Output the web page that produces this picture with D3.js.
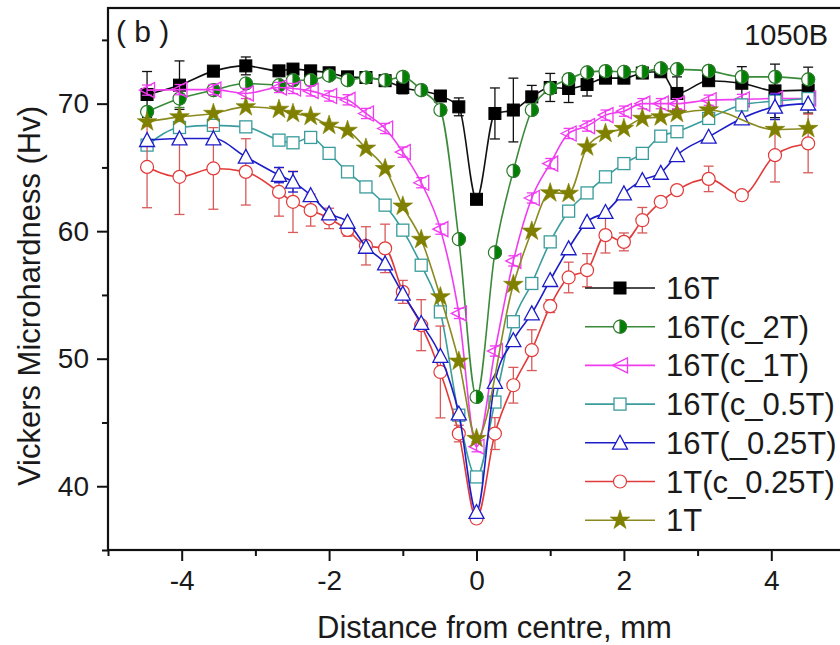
<!DOCTYPE html>
<html><head><meta charset="utf-8">
<script src="https://cdn.jsdelivr.net/npm/d3@7/dist/d3.min.js"></script>
<style>
html,body{margin:0;padding:0;background:#fff;}
text{font-family:"Liberation Sans",Arial,sans-serif;fill:#1a1a1a;}
</style></head>
<body>
<svg id="chart" width="840" height="645"></svg>
<script>
// ---- data ----
const xGrid = [-4.47,-4.03,-3.57,-3.13,-2.68,-2.49,-2.25,-2.0,-1.75,-1.5,-1.24,-1.0,-0.75,-0.49,-0.24,0,0.25,0.5,0.75,1.0,1.25,1.5,1.75,2.0,2.25,2.5,2.72,3.15,3.6,4.05,4.5];
const seriesNames = ["16T","16T(c_2T)","16T(c_1T)","16T(c_0.5T)","16T(_0.25T)","1T(c_0.25T)","1T"];
const hv16T   = [70.72,71.45,72.55,72.96,72.57,72.71,72.57,72.42,72.1,72.05,71.8,71.27,null,70.6,69.75,62.5,69.23,69.5,70.53,71.27,71.19,71.5,72.0,72.0,72.4,72.5,70.8,71.8,71.6,71.0,71.06];
const err16T  = [1.8,1.9,0.3,0.7,0,0,0,0,0,0,0,0.5,null,0,0.7,0,2.0,2.5,0.9,1.1,1.1,0.9,0,0.4,0,0,1.3,0,1.3,2.1,1.8];
const hvC2T   = [69.36,70.4,71.06,71.58,71.45,71.84,71.84,72.2,71.84,72.05,71.84,72.1,71.06,69.5,59.37,47.0,58.33,64.73,69.5,71.19,71.92,72.45,72.55,72.5,72.5,72.76,72.7,72.57,72.1,72.1,71.9];
const errC2T  = [0,0.7,0,0,0,0,0,0,0,0,0,0,0,0,0,0,0,0,0,0,0,0,0,0,0,0,0,0,0,0,0];
const hvC1T   = [71.06,71.1,71.1,70.8,71.27,71.19,71.0,70.6,70.3,69.23,68.05,66.2,63.8,60.16,53.55,43.1,50.6,57.67,62.6,65.3,67.66,68.24,69.1,69.41,70.0,70.0,70.0,70.27,70.33,70.4,70.4];
const errC1T  = [0.4,0.4,0.4,0.4,0.4,0.4,0.4,0.4,0.4,0.4,0.4,0.4,0.4,0.4,0.4,0.4,0.4,0.4,0.4,0.4,0.4,0.4,0.4,0.4,0.4,0.4,0.4,0.4,0.4,0.4,0.4];
const hvC05T  = [66.75,68.13,68.3,68.18,67.14,66.93,67.35,66.1,64.65,63.47,62.04,60.08,57.33,53.67,45.57,40.73,46.6,52.9,55.9,59.16,61.57,63.0,64.26,65.3,66.1,67.45,67.8,68.84,69.9,70.2,70.4];
const errC05T = [0,0,0,0,0,0,0,0,0,0,0,0,0,0,0,0,0,0,0,0,0,0,0,0,0,0,0,0,0,0,0];
const hvC025T = [67.14,67.27,67.27,65.83,64.4,63.87,62.82,61.39,60.73,58.77,57.47,55.1,52.8,50.22,45.7,37.98,48.18,51.45,53.55,56.16,58.65,60.73,61.5,62.96,64.0,64.57,65.96,67.4,68.84,69.75,70.0];
const errC025T= [0,0,0,0,0.6,0.8,0,0,0,0,0,0,0,0,0,0,0,0,0,0,0,0,0,0,0,0,0,0,0,1.0,0];
const hv1TC025T = [65.04,64.26,64.92,64.65,63.08,62.3,61.65,61.0,60.1,58.85,58.65,55.24,52.63,48.96,44.13,37.47,44.13,47.92,50.67,54.12,56.37,56.94,59.69,59.16,60.86,62.3,63.22,64.1,62.82,65.96,66.88];
const err1TC025T= [3.2,2.95,3.2,2.6,1.9,2.4,1.25,0.8,0.5,1.5,1.9,0.9,2.0,3.6,0.65,0,1.25,1.4,1.6,0.5,1.2,1.3,1.4,0.7,1.0,0,0,1.0,0,2.1,2.3];
const hv1T    = [68.57,68.96,69.23,69.75,69.55,69.23,69.0,68.3,67.9,66.5,64.9,61.96,59.35,54.85,49.8,43.74,null,55.82,60.0,63.0,62.96,66.6,67.66,68.05,68.84,68.96,69.23,69.5,null,67.97,68.05];
const err1T   = [0,0,0,0,0,0,0,0,0,0,0,0,0,0,0,0,null,0,0,0,0,0,0,0,0,0,0,0,null,0,0];
const yMajorTicks = [40,50,60,70];
const yMinorTicks = [35,45,55,65,75];
const xMajorTicks = [-4,-2,0,2,4];
const xMinorTicks = [-5,-3,-1,1,3,5];

// ---- styles ----
const styles = [
  {line:"#111", stroke:"#000", fill:"#000", err:"#111", shape:"square"},
  {line:"#3a8a3a", stroke:"#2a7a2a", fill:"#008000", err:"#3a8a3a", shape:"half"},
  {line:"#f03cf0", stroke:"#f03cf0", fill:"none", err:"#f03cf0", shape:"ltri"},
  {line:"#3a9c9c", stroke:"#3a9c9c", fill:"#fff", err:"#3a9c9c", shape:"osquare"},
  {line:"#1c1cc8", stroke:"#1c1cc8", fill:"#fff", err:"#1c1cc8", shape:"utri"},
  {line:"#e23a3a", stroke:"#e23a3a", fill:"#fff", err:"#d85a5a", shape:"circle"},
  {line:"#8a8a20", stroke:"#808000", fill:"#808000", err:"#808000", shape:"star"}
];
const valueSets = [hv16T,hvC2T,hvC1T,hvC05T,hvC025T,hv1TC025T,hv1T];
const errSets = [err16T,errC2T,errC1T,errC05T,errC025T,err1TC025T,err1T];
const series = seriesNames.map((name,i)=>({
  name, style:styles[i],
  pts: xGrid.map((x,j)=>({x, v:valueSets[i][j], e:errSets[i][j]})).filter(p=>p.v!=null)
}));

const svg = d3.select("#chart");
const L=108, R=845, T=8, B=550;
const x = d3.scaleLinear().domain([-5,5]).range([L,R]);
const y = d3.scaleLinear().domain([35,77.5]).range([B,T]);

// axes
const fmt = d => String(d);
const gy = svg.append("g").attr("transform",`translate(${L},0)`)
  .call(d3.axisLeft(y).tickValues(yMajorTicks).tickSize(11).tickPadding(8).tickFormat(fmt));
const gy2 = svg.append("g").attr("transform",`translate(${L},0)`)
  .call(d3.axisLeft(y).tickValues(yMinorTicks).tickSize(6).tickFormat(""));
const gx = svg.append("g").attr("transform",`translate(0,${B})`)
  .call(d3.axisBottom(x).tickValues(xMajorTicks).tickSize(11).tickPadding(9).tickFormat(fmt));
const gx2 = svg.append("g").attr("transform",`translate(0,${B})`)
  .call(d3.axisBottom(x).tickValues(xMinorTicks).tickSize(6).tickFormat(""));
[gy,gy2,gx,gx2].forEach(g=>{
  g.select(".domain").remove();
  g.selectAll("line").attr("stroke","#111").attr("stroke-width",2);
  g.selectAll("text").attr("font-size",28).attr("fill","#1a1a1a")
   .style("font-family","'Liberation Sans',Arial,sans-serif");
});
// frame
svg.append("rect").attr("x",L).attr("y",T).attr("width",R-L).attr("height",B-T)
  .attr("fill","none").attr("stroke","#111").attr("stroke-width",2.2);

// titles
svg.append("text").attr("x",317).attr("y",638).attr("font-size",31).text("Distance from centre, mm");
svg.append("text").attr("transform","translate(40,296) rotate(-90)").attr("text-anchor","middle")
  .attr("font-size",31).text("Vickers Microhardness (Hv)");
svg.append("text").attr("x",116).attr("y",42).attr("font-size",30).text("( b )");
svg.append("text").attr("x",828).attr("y",45).attr("text-anchor","end").attr("font-size",29).text("1050B");

// marker drawing
function marker(g, shape, st, cx, cy, scale){
  const s = scale||1;
  if(shape==="square"){
    g.append("rect").attr("x",cx-6*s).attr("y",cy-6*s).attr("width",12*s).attr("height",12*s)
      .attr("fill",st.fill).attr("stroke",st.stroke).attr("stroke-width",1);
  } else if(shape==="osquare"){
    g.append("rect").attr("x",cx-6*s).attr("y",cy-6*s).attr("width",12*s).attr("height",12*s)
      .attr("fill",st.fill).attr("stroke",st.stroke).attr("stroke-width",1.3);
  } else if(shape==="half"){
    const r=6.5*s;
    g.append("circle").attr("cx",cx).attr("cy",cy).attr("r",r).attr("fill","#fff")
      .attr("stroke",st.stroke).attr("stroke-width",1.2);
    g.append("path").attr("d",`M${cx},${cy-r}A${r},${r} 0 0 1 ${cx},${cy+r}Z`)
      .attr("fill",st.fill).attr("stroke",st.stroke).attr("stroke-width",1.2);
  } else if(shape==="ltri"){
    const a=7.5*s;
    g.append("path").attr("d",`M${cx-a},${cy}L${cx+a},${cy-a}L${cx+a},${cy+a}Z`)
      .attr("fill",st.fill).attr("stroke",st.stroke).attr("stroke-width",1.3);
  } else if(shape==="utri"){
    const a=7.5*s;
    g.append("path").attr("d",`M${cx},${cy-a}L${cx+a},${cy+a*0.85}L${cx-a},${cy+a*0.85}Z`)
      .attr("fill",st.fill).attr("stroke",st.stroke).attr("stroke-width",1.3);
  } else if(shape==="circle"){
    g.append("circle").attr("cx",cx).attr("cy",cy).attr("r",6.5*s).attr("fill",st.fill)
      .attr("stroke",st.stroke).attr("stroke-width",1.2);
  } else if(shape==="star"){
    g.append("path").attr("d",d3.symbol(d3.symbolStar, 120*s*s)()).attr("transform",`translate(${cx},${cy})`)
      .attr("fill",st.fill).attr("stroke",st.stroke).attr("stroke-width",0.6);
  }
}

const lineGen = d3.line().x(d=>x(d.x)).y(d=>y(d.v)).curve(d3.curveMonotoneX);
const drawOrder = [0,1,2,3,5,4,6];
const plot = svg.append("g");
drawOrder.forEach(i=>{
  const s = series[i];
  const g = plot.append("g");
  g.append("path").attr("d",lineGen(s.pts)).attr("fill","none")
    .attr("stroke",s.style.line).attr("stroke-width",1.6);
  s.pts.filter(p=>p.e>0).forEach(p=>{
    const x0=x(p.x), y1=y(p.v+p.e), y2=y(p.v-p.e);
    g.append("line").attr("x1",x0).attr("x2",x0).attr("y1",y1).attr("y2",y2).attr("stroke",s.style.err).attr("stroke-width",1.3);
    [y1,y2].forEach(yy=>g.append("line").attr("x1",x0-5).attr("x2",x0+5).attr("y1",yy).attr("y2",yy)
      .attr("stroke",s.style.err).attr("stroke-width",1.3));
  });
  s.pts.forEach(p=>marker(g, s.style.shape, s.style, x(p.x), y(p.v), 1));
});

// legend
const leg = svg.append("g");
series.forEach((s,i)=>{
  const yy = 288 + i*38.7;
  leg.append("line").attr("x1",585).attr("x2",655).attr("y1",yy).attr("y2",yy)
    .attr("stroke",s.style.line).attr("stroke-width",1.6);
  marker(leg, s.style.shape, s.style, 620, yy, 1);
  leg.append("text").attr("x",666).attr("y",yy+11).attr("font-size",31).text(s.name);
});
</script>
</body></html>
